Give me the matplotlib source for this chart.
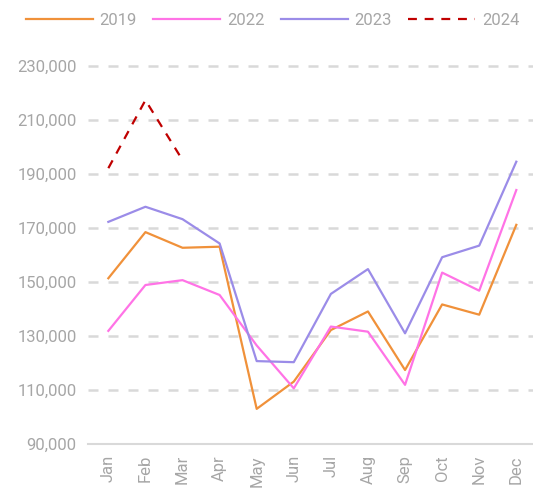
import matplotlib.pyplot as plt
from matplotlib.ticker import FuncFormatter

plt.rcParams['font.family'] = ['Roboto', 'DejaVu Sans']

meses = ["Jan", "Feb", "Mar", "Apr", "May", "Jun", "Jul", "Aug", "Sep", "Oct", "Nov", "Dec"]

v2019 = [151400, 168500, 162700, 163100, 103000, 113100, 132200, 139100, 117400, 141700, 137900, 171200]
v2022 = [131900, 148900, 150700, 145200, 126500, 110600, 133500, 131600, 111900, 153500, 146800, 184100]
v2023 = [172300, 177900, 173300, 164300, 120700, 120300, 145600, 154800, 131000, 159200, 163500, 194600]
v2024 = [192200, 217400, 195200]

cinza = "#a6a6a6"

fig = plt.figure(figsize=(5.33, 4.90), dpi=100)
ax = fig.add_axes([0.165, 0.094, 0.835, 0.826])

x = list(range(len(meses)))
ax.plot(x, v2019, color="#f0913a", lw=1.6, label="2019")
ax.plot(x, v2022, color="#ff73e6", lw=1.6, label="2022")
ax.plot(x, v2023, color="#9b8ce8", lw=1.6, label="2023")
ax.plot(x[:len(v2024)], v2024, color="#c00000", lw=1.6, ls=(0, (4, 3.5)), label="2024")

ax.set_ylim(90000, 240000)
ax.set_xlim(-0.55, 11.45)
ax.set_yticks(range(90000, 240000, 20000))
ax.yaxis.set_major_formatter(FuncFormatter(lambda v, p: f"{int(v):,}"))
ax.set_xticks(x)
ax.set_xticklabels(meses, rotation=90)

for y in range(110000, 240000, 20000):
    ax.axhline(y, color="#d9d9d9", lw=1.8, ls=(0, (4, 4)), zorder=0)

for lado in ["top", "right", "left"]:
    ax.spines[lado].set_visible(False)
ax.spines["bottom"].set_color("#d9d9d9")
ax.spines["bottom"].set_linewidth(1.5)
ax.tick_params(length=0, colors=cinza, labelsize=12, pad=8)

ax.legend(loc="lower center", bbox_to_anchor=(0.415, 1.0), ncol=4, frameon=False,
          fontsize=12, labelcolor=cinza, handlelength=4.0, columnspacing=1.0,
          handletextpad=0.4, borderaxespad=0.3)

fig.savefig("out.png", dpi=100)
